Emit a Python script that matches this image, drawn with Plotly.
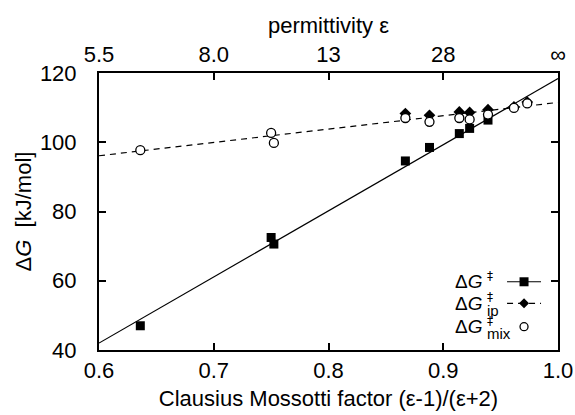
import plotly.graph_objects as go

# Clausius-Mossotti factor values and free energies (kJ/mol)
cm_main = [0.636, 0.750, 0.7524, 0.867, 0.888, 0.914, 0.923, 0.939]
dg_main = [47.0, 72.5, 70.6, 94.6, 98.5, 102.5, 104.0, 106.4]

cm_ip = [0.867, 0.888, 0.914, 0.923, 0.939, 0.9616, 0.9732]
dg_ip = [108.3, 107.8, 108.75, 108.6, 109.4, 110.2, 111.6]

cm_mix = [0.636, 0.750, 0.7524, 0.867, 0.888, 0.914, 0.923, 0.939, 0.9616, 0.9732]
dg_mix = [97.7, 102.7, 99.8, 107.0, 105.9, 107.0, 106.6, 108.0, 109.9, 111.2]

fit_x = [0.6, 1.0]
fit_main = [42.0, 118.4]
fit_ip = [96.1, 111.5]

bottom_ticks = [0.6, 0.7, 0.8, 0.9, 1.0]
bottom_labels = ["0.6", "0.7", "0.8", "0.9", "1.0"]
top_labels = ["5.5", "8.0", "13", "28", "∞"]
y_ticks = [40, 60, 80, 100, 120]

key_subs = ["", "ip", "mix"]

FONT = "Liberation Sans, Arial, Helvetica, sans-serif"
FS = 22
DASH = "6px,5px"

fig = go.Figure()
fig.add_trace(go.Scatter(x=fit_x, y=fit_main, mode="lines",
                         line=dict(color="black", width=1.2), showlegend=False))
fig.add_trace(go.Scatter(x=fit_x, y=fit_ip, mode="lines",
                         line=dict(color="black", width=1.2, dash=DASH), showlegend=False))
fig.add_trace(go.Scatter(x=cm_main, y=dg_main, mode="markers",
                         marker=dict(symbol="square", size=9, color="black"), showlegend=False))
fig.add_trace(go.Scatter(x=cm_ip, y=dg_ip, mode="markers",
                         marker=dict(symbol="diamond", size=9, color="black"), showlegend=False))
fig.add_trace(go.Scatter(x=cm_mix, y=dg_mix, mode="markers",
                         marker=dict(symbol="circle", size=9, color="white",
                                     line=dict(color="black", width=1.3)), showlegend=False))
# invisible trace to anchor the top axis
fig.add_trace(go.Scatter(x=fit_x, y=fit_ip, mode="markers", xaxis="x2",
                         marker=dict(opacity=0), hoverinfo="skip", showlegend=False))

axis_common = dict(showline=True, linecolor="black", linewidth=2, ticks="inside",
                   ticklen=7, tickwidth=2, tickcolor="black", showgrid=False,
                   zeroline=False, automargin=False,
                   tickfont=dict(family=FONT, size=FS, color="black"))

fig.update_layout(
    width=575, height=415,
    margin=dict(l=99, r=17, t=73, b=65),
    paper_bgcolor="white", plot_bgcolor="white",
    font=dict(family=FONT, size=FS, color="black"),
    xaxis=dict(range=[0.6, 1.0], tickvals=bottom_ticks, ticktext=bottom_labels,
               mirror=True, ticklabelstandoff=0,
               title=dict(text="Clausius Mossotti factor (ε-1)/(ε+2)",
                          font=dict(family=FONT, size=FS), standoff=8),
               **axis_common),
    xaxis2=dict(range=[0.6, 1.0], tickvals=bottom_ticks, ticktext=top_labels,
                overlaying="x", side="top", anchor="y", ticklabelstandoff=0,
                title=dict(text="permittivity ε", font=dict(family=FONT, size=FS), standoff=3),
                **axis_common),
    yaxis=dict(range=[40, 120], tickvals=y_ticks, mirror="ticks", ticklabelstandoff=16,
               title=dict(text="Δ<i>G</i>  [kJ/mol]", font=dict(family=FONT, size=FS), standoff=2),
               **axis_common),
)

# manual gnuplot-style key: text on the left, sample on the right
rows = [0.2463, 0.1684, 0.0841]
x_text = 0.8388
x_sup = 0.8400
for yv, sub in zip(rows, key_subs):
    fig.add_annotation(x=x_text, y=yv, xref="paper", yref="paper", text="Δ<i>G</i>",
                       showarrow=False, xanchor="right", yanchor="middle",
                       font=dict(family=FONT, size=19, color="black"))
    fig.add_annotation(x=x_sup, y=yv, xref="paper", yref="paper", text="‡",
                       showarrow=False, xanchor="left", yanchor="middle", yshift=6,
                       font=dict(family="DejaVu Sans, " + FONT, size=12, color="black"))
    if sub:
        fig.add_annotation(x=x_sup, y=yv, xref="paper", yref="paper", text=sub,
                           showarrow=False, xanchor="left", yanchor="middle", yshift=-7,
                           font=dict(family=FONT, size=15, color="black"))

xs0, xs1, xm = 0.889, 0.963, 0.926
fig.add_shape(type="line", xref="paper", yref="paper", x0=xs0, x1=xs1,
              y0=rows[0], y1=rows[0], line=dict(color="black", width=1.2))
fig.add_shape(type="line", xref="paper", yref="paper", x0=xs0, x1=xs1,
              y0=rows[1], y1=rows[1], line=dict(color="black", width=1.2, dash=DASH))
fig.add_shape(type="rect", xref="paper", yref="paper", xsizemode="pixel", ysizemode="pixel",
              xanchor=xm, yanchor=rows[0], x0=-4.5, x1=4.5, y0=-4.5, y1=4.5,
              fillcolor="black", line=dict(width=0))
fig.add_shape(type="path", xref="paper", yref="paper", xsizemode="pixel", ysizemode="pixel",
              xanchor=xm, yanchor=rows[1], path="M -5 0 L 0 5 L 5 0 L 0 -5 Z",
              fillcolor="black", line=dict(width=0))
fig.add_shape(type="circle", xref="paper", yref="paper", xsizemode="pixel", ysizemode="pixel",
              xanchor=xm, yanchor=rows[2], x0=-4, x1=4, y0=-4, y1=4,
              fillcolor="white", line=dict(color="black", width=1.3))

fig.write_html("out.html", config={"displayModeBar": False},
               post_script="document.body.style.margin='0px';")
